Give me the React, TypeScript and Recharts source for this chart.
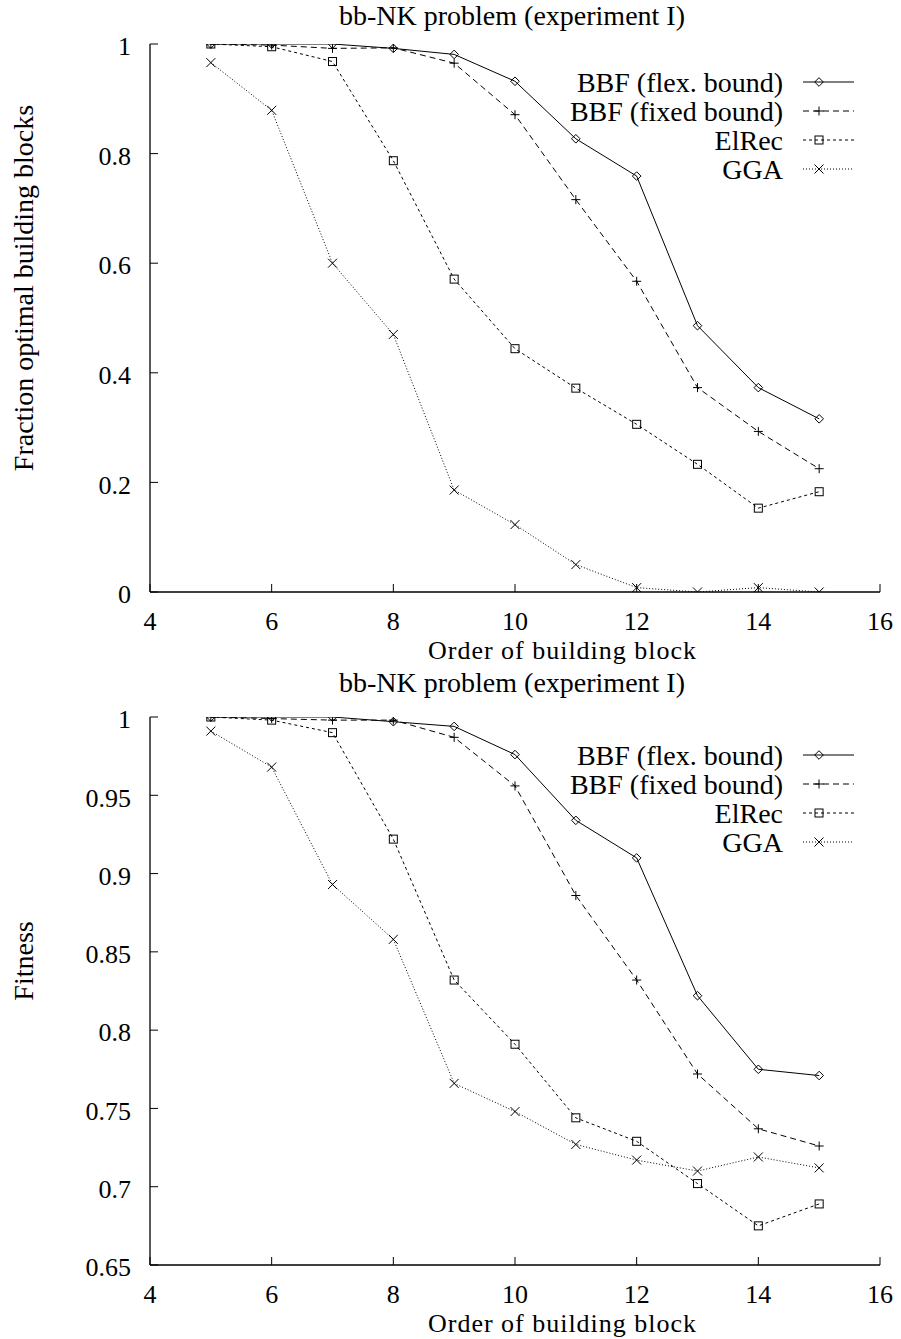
import React from 'react';
import { LineChart, Line, XAxis, YAxis, Legend } from 'recharts';

// order of building block (x values)
const orders = [5, 6, 7, 8, 9, 10, 11, 12, 13, 14, 15];

// top panel: fraction of optimal building blocks
const fracFlex = [1.0, 1.0, 1.0, 0.992, 0.981, 0.932, 0.827, 0.759, 0.486, 0.373, 0.316];
const fracFixed = [1.0, 0.998, 0.992, 0.993, 0.965, 0.871, 0.716, 0.567, 0.373, 0.293, 0.225];
const fracElRec = [1.0, 0.995, 0.968, 0.787, 0.571, 0.444, 0.372, 0.306, 0.233, 0.153, 0.183];
const fracGGA = [0.966, 0.879, 0.6, 0.47, 0.186, 0.123, 0.05, 0.008, 0.0, 0.008, 0.0];

// bottom panel: fitness
const fitFlex = [1.0, 1.0, 1.0, 0.997, 0.994, 0.976, 0.934, 0.91, 0.822, 0.775, 0.771];
const fitFixed = [1.0, 0.999, 0.998, 0.998, 0.987, 0.956, 0.886, 0.832, 0.772, 0.737, 0.726];
const fitElRec = [1.0, 0.998, 0.99, 0.922, 0.832, 0.791, 0.744, 0.729, 0.702, 0.675, 0.689];
const fitGGA = [0.991, 0.968, 0.893, 0.858, 0.766, 0.748, 0.727, 0.717, 0.71, 0.719, 0.712];

const xTicks = [4, 6, 8, 10, 12, 14, 16];
const fracTicks = [0, 0.2, 0.4, 0.6, 0.8, 1];
const fitTicks = [0.65, 0.7, 0.75, 0.8, 0.85, 0.9, 0.95, 1];

const seriesNames = ['BBF (flex. bound)', 'BBF (fixed bound)', 'ElRec', 'GGA'];
const seriesKeys = ['flex', 'fixed', 'elrec', 'gga'];

const chartTitle = 'bb-NK problem (experiment I)';
const xLabel = 'Order of building block';

const FONT = '"Liberation Serif", Tinos, "Times New Roman", Times, "DejaVu Serif", serif';

const makeRows = (a: number[], b: number[], c: number[], d: number[]) =>
  orders.map((o, i) => ({ order: o, flex: a[i], fixed: b[i], elrec: c[i], gga: d[i] }));

const fracData = makeRows(fracFlex, fracFixed, fracElRec, fracGGA);
const fitData = makeRows(fitFlex, fitFixed, fitElRec, fitGGA);

// marker shapes
const Diamond = ({ cx, cy }: any) => {
  const r = 4.3;
  return <path d={`M${cx},${cy - r}L${cx + r},${cy}L${cx},${cy + r}L${cx - r},${cy}Z`} fill="none" stroke="#000" strokeWidth={1} />;
};
const Plus = ({ cx, cy }: any) => {
  const r = 4.5;
  return <path d={`M${cx - r},${cy}H${cx + r}M${cx},${cy - r}V${cy + r}`} fill="none" stroke="#000" strokeWidth={1} />;
};
const Square = ({ cx, cy }: any) => {
  const r = 4;
  return <rect x={cx - r} y={cy - r} width={2 * r} height={2 * r} fill="none" stroke="#000" strokeWidth={1} />;
};
const Cross = ({ cx, cy }: any) => {
  const r = 4.5;
  return <path d={`M${cx - r},${cy - r}L${cx + r},${cy + r}M${cx + r},${cy - r}L${cx - r},${cy + r}`} fill="none" stroke="#000" strokeWidth={1} />;
};

const markers = [Diamond, Plus, Square, Cross];
const dashes = [undefined, '6 4', '3 3', '1 2'];

const W = 901;
const PLOT_H = 548;

// custom legend, gnuplot style: text right aligned, sample line after it
const renderLegend = () => (
  <svg width={330} height={150} style={{ overflow: 'visible' }}>
    {seriesNames.map((name, i) => {
      const cy = 38 + i * 29;
      const M = markers[i];
      return (
        <g key={name}>
          <text x={243} y={cy + 9.5} textAnchor="end" fontSize={28} fontFamily={FONT} fill="#000">
            {name}
          </text>
          <line x1={263} x2={314} y1={cy} y2={cy} stroke="#000" strokeWidth={1} strokeDasharray={dashes[i]} />
          <M cx={279} cy={cy} />
        </g>
      );
    })}
  </svg>
);

function Panel({ data, yLabel, yDomain, yTicks, titleY, off, height }: any) {
  const tickStyle = { fontSize: 26, fill: '#000', fontFamily: FONT };
  const top = 44 + off;
  return (
    <LineChart width={W} height={height} data={data} margin={{ top, right: 21, left: 0, bottom: 0 }}>
      <text x={512} y={titleY + off} textAnchor="middle" fontSize={28} fontFamily={FONT} fill="#000">
        {chartTitle}
      </text>
      <text x={562} y={659 + off} textAnchor="middle" fontSize={26} fontFamily={FONT} fill="#000" textLength={268}>
        {xLabel}
      </text>
      <text
        x={33}
        y={288 + off}
        textAnchor="middle"
        fontSize={28}
        fontFamily={FONT}
        fill="#000"
        transform={`rotate(-90 33 ${288 + off})`}
      >
        {yLabel}
      </text>

      <XAxis
        dataKey="order"
        type="number"
        domain={[4, 16]}
        ticks={xTicks}
        interval={0}
        height={height - top - PLOT_H}
        tickSize={-8}
        tickMargin={28}
        tick={tickStyle}
        axisLine={{ stroke: '#000', strokeWidth: 1.3 }}
        tickLine={{ stroke: '#000' }}
        allowDataOverflow
      />
      <XAxis
        xAxisId="top"
        orientation="top"
        dataKey="order"
        type="number"
        domain={[4, 16]}
        ticks={xTicks}
        interval={0}
        height={0}
        tickSize={-8}
        tick={false}
        axisLine={{ stroke: '#000', strokeWidth: 1.3 }}
        tickLine={{ stroke: '#000' }}
      />
      <YAxis
        type="number"
        domain={yDomain}
        ticks={yTicks}
        interval={0}
        width={150}
        tickSize={-8}
        tickMargin={27}
        tick={{ ...tickStyle, dy: 2 }}
        axisLine={{ stroke: '#000', strokeWidth: 1.3 }}
        tickLine={{ stroke: '#000' }}
        allowDataOverflow
      />
      <YAxis
        yAxisId="right"
        orientation="right"
        type="number"
        domain={yDomain}
        ticks={yTicks}
        interval={0}
        width={0}
        tickSize={-8}
        tick={false}
        axisLine={{ stroke: '#000', strokeWidth: 1.3 }}
        tickLine={{ stroke: '#000' }}
      />

      <Legend
        layout="vertical"
        align="center"
        verticalAlign="middle"
        content={renderLegend}
        wrapperStyle={{ left: 540, top, width: 330, height: 150 }}
      />

      {seriesKeys.map((key, i) => {
        const M = markers[i];
        return (
          <Line
            key={key}
            dataKey={key}
            name={seriesNames[i]}
            type="linear"
            stroke="#000"
            strokeWidth={1}
            strokeDasharray={dashes[i]}
            dot={(p: any) => <M key={`${key}-${p.index}`} cx={p.cx} cy={p.cy} />}
            activeDot={false}
            isAnimationActive={false}
          />
        );
      })}
    </LineChart>
  );
}

export default function App() {
  return (
    <div style={{ position: 'absolute', left: 0, top: 0, width: W, height: 1339, background: '#fff' }}>
      <div style={{ position: 'absolute', left: 0, top: 0 }}>
        <Panel data={fracData} yLabel="Fraction optimal building blocks" yDomain={[0, 1]} yTicks={fracTicks} titleY={25} off={0} height={666} />
      </div>
      <div style={{ position: 'absolute', left: 0, top: 660 }}>
        <Panel data={fitData} yLabel="Fitness" yDomain={[0.65, 1]} yTicks={fitTicks} titleY={19} off={13} height={679} />
      </div>
    </div>
  );
}
